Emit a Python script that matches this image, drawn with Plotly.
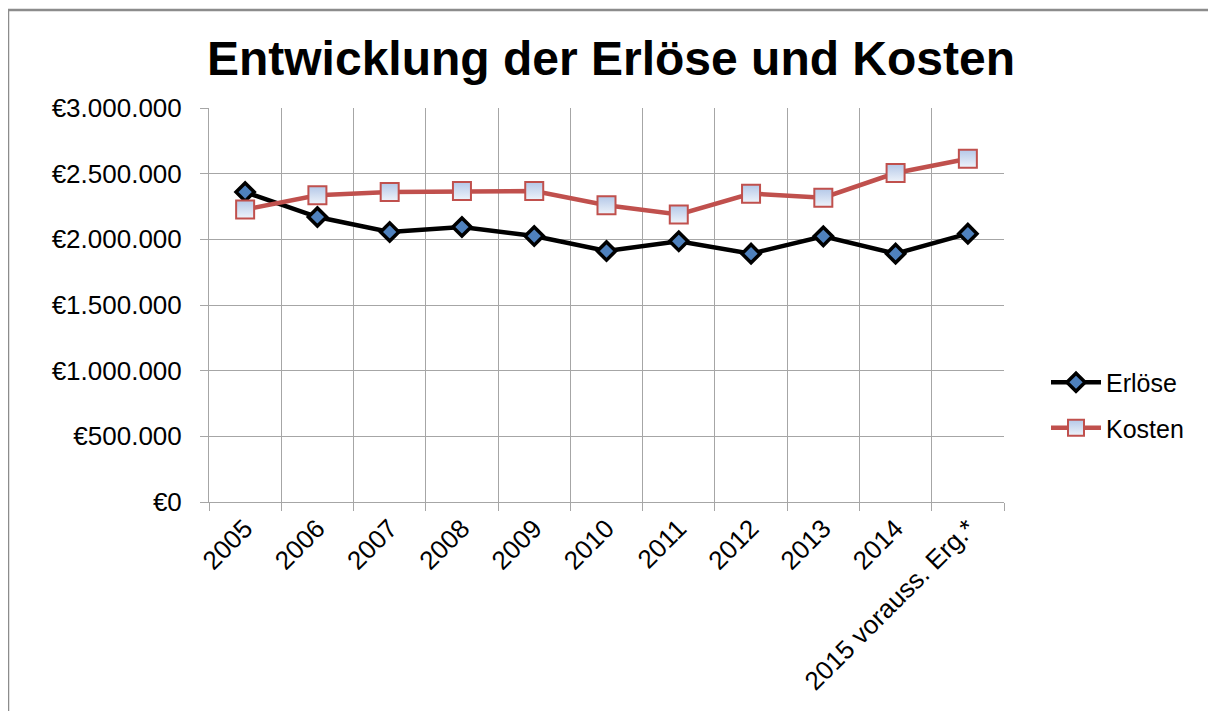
import plotly.graph_objects as go

categories = ["2005", "2006", "2007", "2008", "2009", "2010", "2011", "2012", "2013", "2014", "2015 vorauss. Erg.*"]
erloese = [2360000, 2170000, 2056000, 2094000, 2025000, 1911000, 1985000, 1891000, 2023000, 1891000, 2043000]
kosten = [2228000, 2335000, 2360000, 2368000, 2368000, 2259000, 2190000, 2348000, 2317000, 2505000, 2614000]
y_tickvals = [0, 500000, 1000000, 1500000, 2000000, 2500000, 3000000]
y_ticktext = ["€0", "€500.000", "€1.000.000", "€1.500.000", "€2.000.000", "€2.500.000", "€3.000.000"]

FONT = "Liberation Sans, Arial, sans-serif"
GRID = "#A6A6A6"

# the page body adds an 8px offset; work in page pixels and subtract it
OFF = 8
W, H = 1216 - OFF, 711 - OFF
PL, PR, PT, PB = 209, 1004, 108, 502  # plot area in page pixels
L = PL - OFF
R = W - (PR - OFF)
T = PT - OFF
B = H - (PB - OFF)
pw = W - L - R
ph = H - T - B

def px2paper_x(px):
    return (px - OFF - L) / pw

def px2paper_y(py):
    return (H - B - (py - OFF)) / ph

fig = go.Figure()
fig.add_trace(go.Scatter(
    x=categories, y=erloese, name="Erlöse", mode="lines+markers", legendgroup="a",
    line=dict(color="#000000", width=4.5),
    marker=dict(symbol="diamond", size=14, color="#4F81BD",
                line=dict(color="#000000", width=3.5)),
))
fig.add_trace(go.Scatter(
    x=categories, y=kosten, name="Kosten", mode="lines+markers", legendgroup="b",
    line=dict(color="#C0504D", width=4.5),
    marker=dict(symbol="square", size=18, color="#B4C8E8",
                gradient=dict(type="vertical", color="#EEF3FA"),
                line=dict(color="#C0504D", width=2)),
))

fig.update_layout(
    width=W, height=H,
    margin=dict(l=L, r=R, t=T, b=B, autoexpand=False),
    paper_bgcolor="white", plot_bgcolor="white",
    font=dict(family=FONT, size=24, color="#000000"),
    title=dict(text="<b>Entwicklung der Erlöse und Kosten</b>",
               font=dict(family=FONT, size=48, color="#000000"),
               x=(611 - OFF) / W, xanchor="center", xref="container",
               y=1 - (58 - OFF) / H, yanchor="middle", yref="container"),
    showlegend=True,
    legend=dict(x=px2paper_x(1046), y=px2paper_y(405), xanchor="left", yanchor="middle",
                bgcolor="rgba(0,0,0,0)", font=dict(family=FONT, size=25),
                tracegroupgap=10, itemwidth=50),
    xaxis=dict(type="category", range=[-0.5, len(categories) - 0.5],
               tickson="boundaries", ticks="outside", ticklen=8, tickcolor=GRID,
               showgrid=True, gridcolor=GRID, gridwidth=1,
               showline=True, linecolor=GRID, linewidth=1,
               tickangle=-45, tickfont=dict(family=FONT, size=26, color="#000000")),
    yaxis=dict(range=[0, 3000000], tickvals=y_tickvals, ticktext=y_ticktext,
               ticks="outside", ticklen=8, tickcolor=GRID,
               showgrid=True, gridcolor=GRID, gridwidth=1,
               showline=True, linecolor=GRID, linewidth=1, zeroline=False,
               ticklabelstandoff=13,
               tickfont=dict(family=FONT, size=26, color="#000000")),
)

# outer chart border (chart area frame)
fig.add_shape(type="rect", xref="paper", yref="paper",
              x0=px2paper_x(8), x1=px2paper_x(1240),
              y0=px2paper_y(740), y1=px2paper_y(10),
              line=dict(color="#8C8C8C", width=2.5), fillcolor="rgba(0,0,0,0)",
              layer="below")

fig.write_html("out.html")
